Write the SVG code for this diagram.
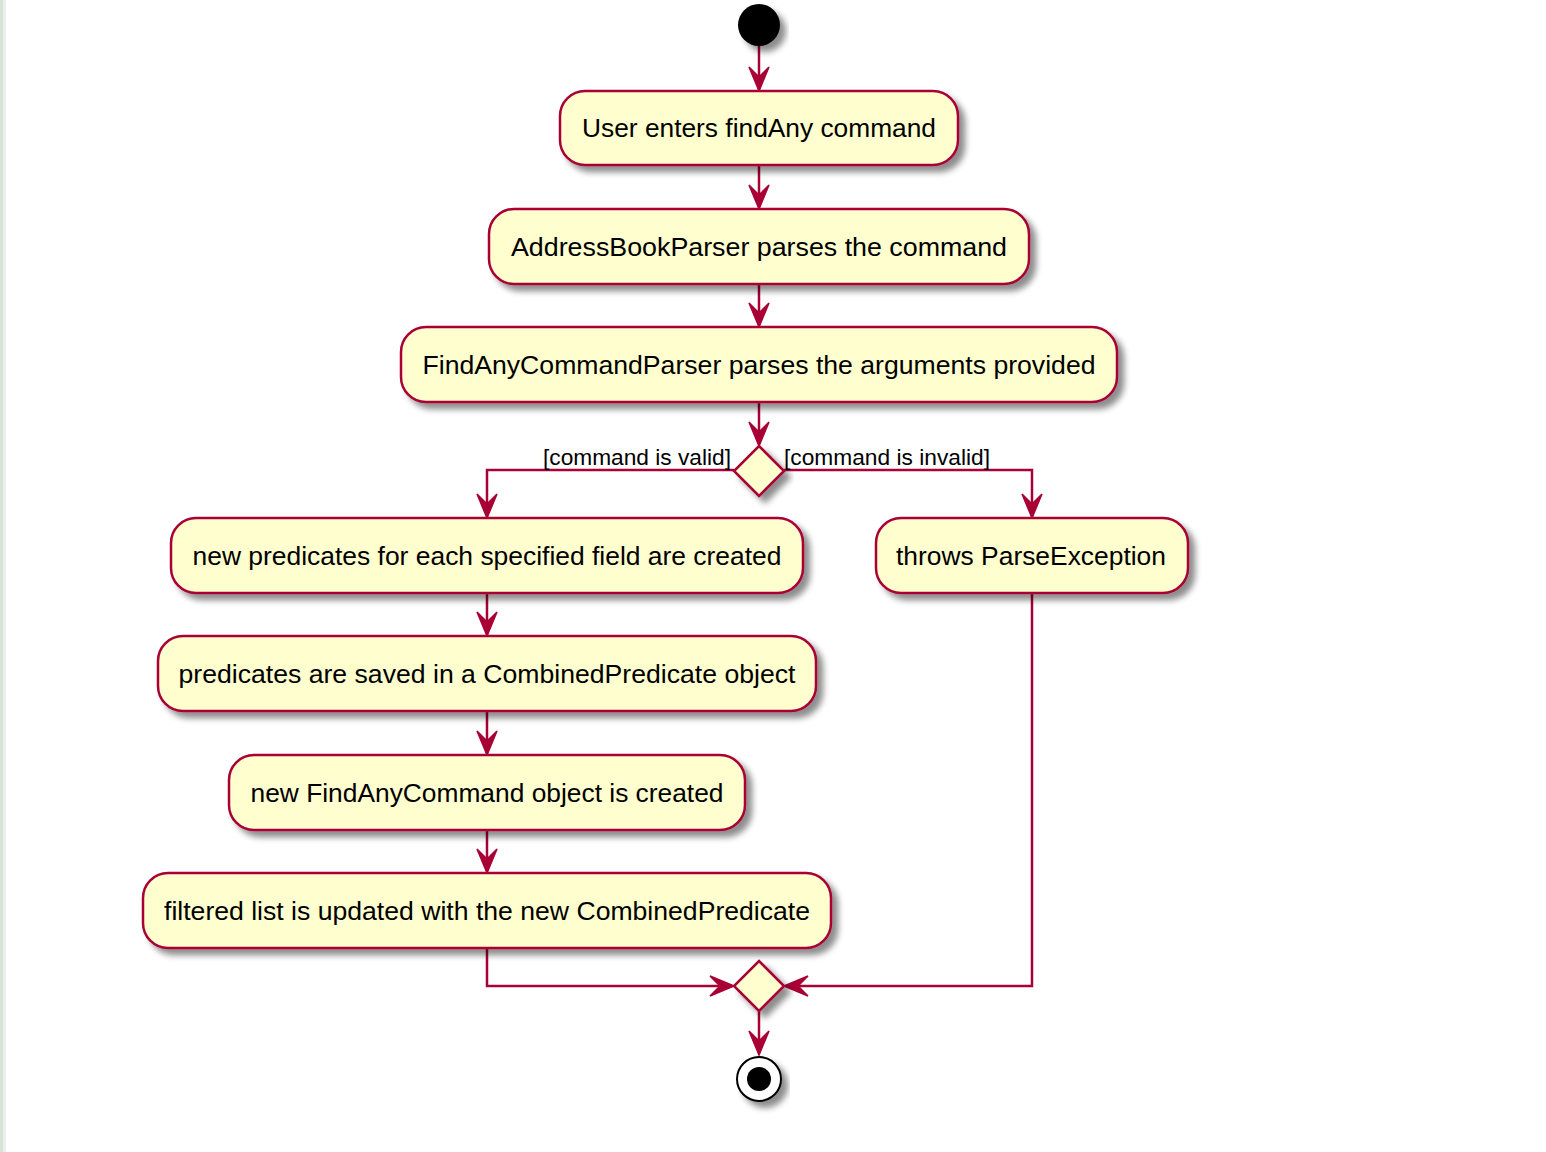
<svg xmlns="http://www.w3.org/2000/svg" width="1546" height="1152" viewBox="0 0 1546 1152">
  <style>
    .act { fill: #FEFECE; stroke: #A80036; stroke-width: 2.5; filter: url(#shadow); }
    .lbl { font-family: "Liberation Sans", Arial, sans-serif; font-size: 25px; fill: #000; text-anchor: middle; }
    .guard { font-family: "Liberation Sans", Arial, sans-serif; font-size: 22px; fill: #000; }
    .edge { fill: none; stroke: #A80036; stroke-width: 2.5; }
    .head { fill: #A80036; stroke: #A80036; stroke-width: 1.5; }
  </style>
  <defs>
    <filter id="shadow" x="-10%" y="-20%" width="130%" height="160%">
      <feGaussianBlur in="SourceAlpha" stdDeviation="3"/>
      <feOffset dx="6" dy="6" result="b"/>
      <feComponentTransfer><feFuncA type="linear" slope="0.45"/></feComponentTransfer>
      <feMerge><feMergeNode/><feMergeNode in="SourceGraphic"/></feMerge>
    </filter>
    <!-- notched arrowhead pointing down, tip at origin -->
    <polygon id="arrowDown" class="head" points="0,0 -10,-24 0,-14 10,-24"/>
  </defs>

  <rect width="1546" height="1152" fill="#ffffff"/>
  <rect x="0" y="0" width="3" height="1152" fill="#d6e3d6"/>
  <rect x="3" y="0" width="3" height="1152" fill="#eeeeee"/>

  <!-- connectors -->
  <g id="connectors">
    <path class="edge" d="M759,46 V89"/>
    <use href="#arrowDown" x="759" y="91"/>
    <path class="edge" d="M759,165 V207"/>
    <use href="#arrowDown" x="759" y="209"/>
    <path class="edge" d="M759,284 V325"/>
    <use href="#arrowDown" x="759" y="327"/>
    <path class="edge" d="M759,402 V444"/>
    <use href="#arrowDown" x="759" y="446"/>

    <path class="edge" d="M734,470 H487 V516"/>
    <use href="#arrowDown" x="487" y="518"/>
    <path class="edge" d="M784,470 H1032 V516"/>
    <use href="#arrowDown" x="1032" y="518"/>

    <path class="edge" d="M487,593 V634"/>
    <use href="#arrowDown" x="487" y="636"/>
    <path class="edge" d="M487,711 V753"/>
    <use href="#arrowDown" x="487" y="755"/>
    <path class="edge" d="M487,830 V871"/>
    <use href="#arrowDown" x="487" y="873"/>

    <path class="edge" d="M487,948 V986 H732"/>
    <polygon class="head" points="734,986 710,976 720,986 710,996"/>
    <path class="edge" d="M1032,593 V986 H786"/>
    <polygon class="head" points="784,986 808,976 798,986 808,996"/>

    <path class="edge" d="M759,1011 V1053"/>
    <use href="#arrowDown" x="759" y="1055"/>

    <text class="guard" x="543" y="465" textLength="188" lengthAdjust="spacingAndGlyphs">[command is valid]</text>
    <text class="guard" x="784" y="465" textLength="206" lengthAdjust="spacingAndGlyphs">[command is invalid]</text>
  </g>

  <g id="start">
    <circle cx="759" cy="25" r="21" fill="#000" filter="url(#shadow)"/>
  </g>

  <g id="node-user-enters">
    <rect class="act" x="560" y="91" width="398" height="74" rx="25"/>
    <text class="lbl" x="759" y="137" textLength="354" lengthAdjust="spacingAndGlyphs">User enters findAny command</text>
  </g>

  <g id="node-addressbook-parser">
    <rect class="act" x="489" y="209" width="540" height="75" rx="25"/>
    <text class="lbl" x="759" y="256" textLength="496" lengthAdjust="spacingAndGlyphs">AddressBookParser parses the command</text>
  </g>

  <g id="node-findany-parser">
    <rect class="act" x="401" y="327" width="716" height="75" rx="25"/>
    <text class="lbl" x="759" y="374" textLength="673" lengthAdjust="spacingAndGlyphs">FindAnyCommandParser parses the arguments provided</text>
  </g>

  <g id="decision">
    <polygon class="act" points="759,446 784,471 759,496 734,471"/>
  </g>

  <g id="node-new-predicates">
    <rect class="act" x="171" y="518" width="632" height="75" rx="25"/>
    <text class="lbl" x="487" y="565" textLength="589" lengthAdjust="spacingAndGlyphs">new predicates for each specified field are created</text>
  </g>

  <g id="node-parse-exception">
    <rect class="act" x="876" y="518" width="312" height="75" rx="25"/>
    <text class="lbl" x="1031" y="565" textLength="270" lengthAdjust="spacingAndGlyphs">throws ParseException</text>
  </g>

  <g id="node-combined-predicate">
    <rect class="act" x="158" y="636" width="658" height="75" rx="25"/>
    <text class="lbl" x="487" y="683" textLength="617" lengthAdjust="spacingAndGlyphs">predicates are saved in a CombinedPredicate object</text>
  </g>

  <g id="node-findany-command">
    <rect class="act" x="229" y="755" width="516" height="75" rx="25"/>
    <text class="lbl" x="487" y="802" textLength="473" lengthAdjust="spacingAndGlyphs">new FindAnyCommand object is created</text>
  </g>

  <g id="node-filtered-list">
    <rect class="act" x="143" y="873" width="688" height="75" rx="25"/>
    <text class="lbl" x="487" y="920" textLength="646" lengthAdjust="spacingAndGlyphs">filtered list is updated with the new CombinedPredicate</text>
  </g>

  <g id="merge">
    <polygon class="act" points="759,961 784,986 759,1011 734,986"/>
  </g>

  <g id="end">
    <circle cx="759" cy="1079" r="22" fill="#fff" stroke="#000" stroke-width="2" filter="url(#shadow)"/>
    <circle cx="759" cy="1079" r="12" fill="#000"/>
  </g>
</svg>
